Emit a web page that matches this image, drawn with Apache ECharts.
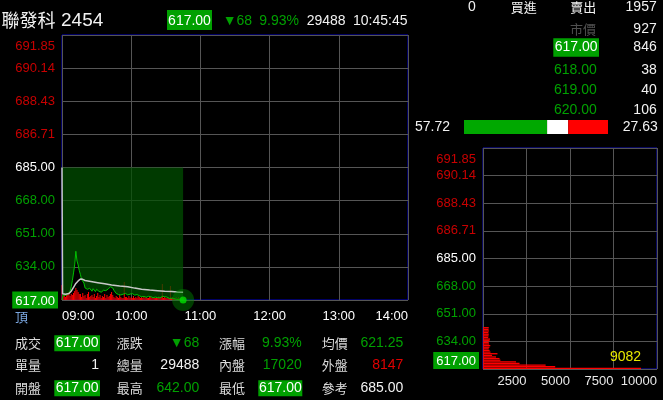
<!DOCTYPE html>
<html><head><meta charset="utf-8">
<script src="https://cdn.jsdelivr.net/npm/echarts@6/dist/echarts.min.js"></script>
<style>html,body{margin:0;padding:0;background:#000;}#c{width:663px;height:400px;}</style>
</head><body><div id="c"></div>
<script>
// ---------- data ----------
const priceTickLabels = ['617.00','634.00','651.00','668.00','685.00','686.71','688.43','690.14','691.85'];
const timeTickLabels = ['09:00','10:00','11:00','12:00','13:00','14:00'];
const refPrice = 685;
const minutes = [0,1,2,3,4,5,6,7,8,9,10,11,12,13,14,15,16,17,18,19,20,21,22,23,24,25,26,27,28,29,30,31,32,33,34,35,36,37,38,39,40,41,42,43,44,45,46,47,48,49,50,51,52,53,54,55,56,57,58,59,60,61,62,63,64,65,66,67,68,69,70,71,72,73,74,75,76,77,78,79,80,81,82,83,84,85,86,87,88,89,90,91,92,93,94,95,96,97,98,99,100,101,102,103,104,105];
const priceValues = [617,619.5,619.6,619.4,619.6,619.8,620,621.5,623.8,627,630.9,635,642,637,635,632,630,627.5,626.5,625.7,623.2,623.5,622.5,623,623,622.1,621.5,622.8,622,621.3,622.5,621.8,621.5,622.3,621,621.4,622,621.2,621.8,622.3,622.6,623.5,623.8,623.6,623.2,622,621,620.4,620,619.8,619.5,619.6,619.4,620,620.4,620.4,620.2,619.6,619.5,620,619.9,620.3,620,619.5,619.4,619.8,619.6,619.2,618.9,618.7,618.5,618.8,618.7,618.4,618.6,618.9,618.5,618.7,618.3,618.2,618.6,618.5,618,618.2,618.4,618.1,618.5,618.9,618.7,618.7,618.3,618.5,618,617.8,618.1,617.9,617.6,617.8,617.5,617.3,617.4,617.2,617.3,617.1,617,617];
const volumeValues = [450,120,180,90,210,150,240,120,180,150,210,270,360,300,240,180,180,90,210,120,150,60,180,240,90,120,150,90,180,60,120,210,90,150,60,120,90,180,60,150,90,120,180,240,150,90,60,120,90,60,150,90,60,60,540,90,90,60,120,60,90,60,120,60,90,60,120,90,60,90,60,120,60,90,60,60,90,120,60,90,60,60,90,60,120,60,90,480,60,90,60,60,90,60,420,60,90,60,60,90,60,90,60,60,90,60];
const avgMinutes = [0,0.5,3,6,8,10,12,14,16,18,20,25,31,37,43,50,57,63,69,76,83,89,95,100,105];
const avgValues = [685,620.2,620,620.3,621.5,623.5,625.5,626.8,627.8,627.6,627,626.5,625.9,625.3,624.7,624.2,623.8,623.1,622.5,622.1,621.8,621.5,621.3,621.1,621];
const profilePrices = [617,618,619,620,621,622,623,624,625,626,627,628,629,630,631,632,633,634,635,636,637,638,639,640,641,642];
const profileVolumes = [9082,4150,3600,2100,1900,1000,950,750,520,830,430,380,330,370,420,350,330,380,400,300,320,330,310,340,320,330];
const profileTickLabels = ['0','2500','5000','7500','10000'];
const ratioValues = [57.72,14.65,27.63];
const header = ['聯發科','2454','617.00','▼68','9.93%','29488','10:45:45'];
const bookHeader = ['0','買進','賣出','1957'];
const bookPrices = ['市價','617.00','618.00','619.00','620.00'];
const bookVolumes = ['927','846','38','40','106'];
const tableLabels = [['成交','漲跌','漲幅','均價'],['單量','總量','內盤','外盤'],['開盤','最高','最低','參考']];
const tableValues = [['617.00','▼68','9.93%','621.25'],['1','29488','17020','8147'],['617.00','642.00','617.00','685.00']];

// ---------- styles ----------
const GREEN = '#00a000', RED = '#c80000', WHITE = '#f2f2f2', GRID = '#555555', BLUE = '#0000c8';
const NUM = '"Liberation Sans","Noto Sans CJK TC",sans-serif';
const CJK = '"Noto Sans CJK TC",sans-serif';
const tableStyles = [['box','green','green','green'],['white','white','green','red'],['box','green','box','white']];

function t(text, x, y, align, fill, font) {
  return {type:'text', z:10, style:{text:text, x:x, y:y, align:align, textAlign:align, verticalAlign:'middle', textVerticalAlign:'middle', fill:fill, font:font}};
}
function box(x, y, w, h) { return {type:'rect', z:9, shape:{x:x,y:y,width:w,height:h}, style:{fill:GREEN}}; }

function priceLabelFormatter(v) {
  const i = Math.round(v);
  const s = priceTickLabels[i];
  if (i === 0) return '{box|' + s + '}';
  if (i < 4) return '{dn|' + s + '}';
  if (i === 4) return '{ref|' + s + '}';
  if (i === priceTickLabels.length - 1) return '{top|' + s + '}';
  return '{up|' + s + '}';
}
const priceRich = {
  box:{backgroundColor:GREEN, color:'#ffffff', padding:[3,3,1,3], fontSize:13, fontFamily:NUM},
  dn:{color:GREEN, padding:[0,3,0,3], fontSize:13, fontFamily:NUM},
  ref:{color:'#ffffff', padding:[0,3,0,3], fontSize:13, fontFamily:NUM},
  up:{color:RED, padding:[0,3,0,3], fontSize:13, fontFamily:NUM},
  top:{color:RED, padding:[5,3,0,3], fontSize:13, fontFamily:NUM}
};

const g = [];
// header
g.push(t(header[0], 1.5, 20, 'left', WHITE, '18px ' + CJK));
g.push(t(header[1], 61, 20.5, 'left', WHITE, '19px ' + NUM));
g.push(box(167, 10, 45, 20));
g.push(t(header[2], 189.5, 21, 'center', '#ffffff', '14px ' + NUM));
g.push(t(header[3], 222.7, 21, 'left', GREEN, '14px ' + NUM));
g.push(t(header[4], 259.3, 21, 'left', GREEN, '14px ' + NUM));
g.push(t(header[5], 306.7, 21, 'left', WHITE, '14px ' + NUM));
g.push(t(header[6], 407.5, 21, 'right', WHITE, '14px ' + NUM));
// order book
g.push(t(bookHeader[0], 472, 7.5, 'center', WHITE, '14px ' + NUM));
g.push(t(bookHeader[1], 523.7, 7.5, 'center', WHITE, '13px ' + CJK));
g.push(t(bookHeader[2], 583.3, 7.5, 'center', WHITE, '13px ' + CJK));
g.push(t(bookHeader[3], 656.7, 7.5, 'right', WHITE, '14px ' + NUM));
const bookY = [29, 47.5, 70, 90, 110];
for (let i = 0; i < bookPrices.length; i++) {
  if (i === 0) g.push(t(bookPrices[i], 596, bookY[i], 'right', '#505050', '13px ' + CJK));
  else if (i === 1) { g.push(box(553.3, 38.3, 45.7, 18.4)); g.push(t(bookPrices[i], 576.2, bookY[i], 'center', '#ffffff', '14px ' + NUM)); }
  else g.push(t(bookPrices[i], 596.7, bookY[i], 'right', GREEN, '14px ' + NUM));
  g.push(t(bookVolumes[i], 656.7, bookY[i], 'right', WHITE, '14px ' + NUM));
}
g.push(t(ratioValues[0].toFixed(2), 450, 127, 'right', WHITE, '14px ' + NUM));
g.push(t(ratioValues[2].toFixed(2), 622.7, 127, 'left', WHITE, '14px ' + NUM));
// bottom table
g.push(t('頂', 15, 317, 'left', '#7ba7e0', '13px ' + CJK));
const rowY = [343.3, 365, 388.3];
const labX = [15, 116.7, 219, 321.7];
const valX = [99, 199.3, 301.7, 403.3];
const boxX = [[54.3,100],[0,0],[258.3,302.3],[0,0]];
for (let r = 0; r < 3; r++) {
  for (let c = 0; c < 4; c++) {
    g.push(t(tableLabels[r][c], labX[c], rowY[r], 'left', '#dcdcdc', '13px ' + CJK));
    const st = tableStyles[r][c];
    if (st === 'box') {
      g.push(box(boxX[c][0], rowY[r] - 8, boxX[c][1] - boxX[c][0], 16));
      g.push(t(tableValues[r][c], (boxX[c][0] + boxX[c][1]) / 2, rowY[r], 'center', '#ffffff', '14px ' + NUM));
    } else {
      const col = st === 'green' ? GREEN : st === 'red' ? '#e00000' : WHITE;
      g.push(t(tableValues[r][c], valX[c], rowY[r], 'right', col, '14px ' + NUM));
    }
  }
}

const last = minutes.length - 1;
const maxIdx = profileVolumes.indexOf(Math.max.apply(null, profileVolumes));

const option = {
  backgroundColor: '#000000',
  animation: false,
  textStyle: {fontFamily: NUM},
  grid: [
    {left:62, top:35, width:346, height:265, show:true, borderColor:BLUE, borderWidth:1, backgroundColor:'transparent'},
    {left:483, top:148, width:174, height:221, show:true, borderColor:'#1010c0', borderWidth:1, backgroundColor:'transparent'},
    {left:464, top:120, width:144, height:14}
  ],
  xAxis: [
    {gridIndex:0, type:'value', min:0, max:300, interval:60,
     axisLine:{show:false}, axisTick:{show:false},
     splitLine:{show:true, lineStyle:{color:GRID, width:1}},
     axisLabel:{color:'#ffffff', fontSize:13, margin:10, fontFamily:NUM, alignMinLabel:'left', alignMaxLabel:'right',
       formatter:function(v){ return timeTickLabels[Math.round(v/60)]; }}},
    {gridIndex:1, type:'value', min:0, max:10000, interval:2500,
     axisLine:{show:false}, axisTick:{show:false},
     splitLine:{show:true, lineStyle:{color:GRID, width:1}},
     axisLabel:{color:'#e8e8e8', fontSize:13, margin:6, fontFamily:NUM, align:'right',
       formatter:function(v){ const i = Math.round(v/2500); return i === 0 ? '' : profileTickLabels[i]; }}},
    {gridIndex:2, type:'value', min:0, max:100, show:false}
  ],
  yAxis: [
    {gridIndex:0, type:'value', min:0, max:8, interval:1,
     axisLine:{show:false}, axisTick:{show:false},
     splitLine:{show:true, lineStyle:{color:GRID, width:1}},
     axisLabel:{margin:4, formatter:priceLabelFormatter, rich:priceRich, verticalAlignMaxLabel:'top'}},
    {gridIndex:0, type:'value', min:617, max:753, show:false},
    {gridIndex:0, type:'value', min:0, max:8000, show:false},
    {gridIndex:1, type:'value', min:0, max:8, interval:1,
     axisLine:{show:false}, axisTick:{show:false},
     splitLine:{show:true, lineStyle:{color:GRID, width:1}},
     axisLabel:{margin:4, formatter:priceLabelFormatter, rich:priceRich, verticalAlignMaxLabel:'top', verticalAlignMinLabel:'bottom'}},
    {gridIndex:1, type:'value', min:617, max:753, show:false},
    {gridIndex:2, type:'category', data:['r'], show:false}
  ],
  series: [
    {type:'bar', xAxisIndex:0, yAxisIndex:2, z:1, barWidth:1, itemStyle:{color:'#ff0000'},
     data: minutes.map(function(m,i){ return [m, volumeValues[i]]; })},
    {type:'line', xAxisIndex:0, yAxisIndex:1, z:2, showSymbol:false, symbol:'none',
     lineStyle:{color:'#00c000', width:1},
     areaStyle:{origin:refPrice, color:'rgba(0,80,0,0.72)', opacity:1},
     data: minutes.map(function(m,i){ return [m, priceValues[i]]; })},
    {type:'line', xAxisIndex:0, yAxisIndex:1, z:3, showSymbol:false, symbol:'none',
     lineStyle:{color:'#c8c8c8', width:1.5},
     data: avgMinutes.map(function(m,i){ return [m, avgValues[i]]; })},
    {type:'scatter', xAxisIndex:0, yAxisIndex:1, z:4, symbolSize:22, itemStyle:{color:'rgba(0,140,0,0.55)'},
     data:[[minutes[last], priceValues[last]]]},
    {type:'scatter', xAxisIndex:0, yAxisIndex:1, z:5, symbolSize:7, itemStyle:{color:'#00e000'},
     data:[[minutes[last], priceValues[last]]]},
    {type:'custom', xAxisIndex:1, yAxisIndex:4, z:3,
     data: profilePrices.map(function(p,i){ return [profileVolumes[i], p]; }),
     renderItem:function(params, api){
       const v = api.value(0), p = api.value(1);
       const s = api.coord([0, p]), e = api.coord([v, p]);
       const h = 1.3;
       const ch = [{type:'rect', shape:{x:s[0], y:s[1]-h, width:e[0]-s[0], height:h}, style:{fill:'#ff0000'}}];
       if (params.dataIndex === maxIdx) ch.push({type:'text', style:{text:String(v), x:e[0], y:e[1]-12, align:'right', verticalAlign:'middle', fill:'#e8e800', font:'14px ' + NUM}});
       return {type:'group', children:ch};
     }},
    {type:'bar', xAxisIndex:2, yAxisIndex:5, stack:'r', barWidth:14, itemStyle:{color:'#00a800'}, data:[ratioValues[0]]},
    {type:'bar', xAxisIndex:2, yAxisIndex:5, stack:'r', barWidth:14, itemStyle:{color:'#ffffff'}, data:[ratioValues[1]]},
    {type:'bar', xAxisIndex:2, yAxisIndex:5, stack:'r', barWidth:14, itemStyle:{color:'#ff0000'}, data:[ratioValues[2]]}
  ],
  graphic: {elements: g}
};
const chart = echarts.init(document.getElementById('c'), null, {renderer:'canvas'});
chart.setOption(option);
</script></body></html>
